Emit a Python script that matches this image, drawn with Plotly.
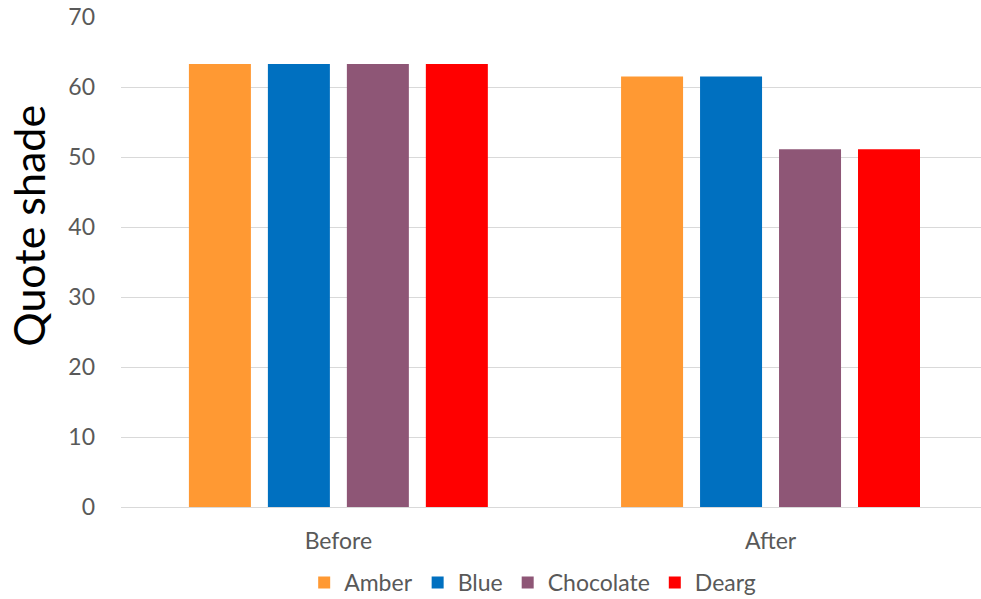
import plotly.graph_objects as go

categories = ["Before", "After"]
series_names = ["Amber", "Blue", "Chocolate", "Dearg"]
amber = [63.3, 61.5]
blue = [63.3, 61.5]
chocolate = [63.3, 51.1]
dearg = [63.3, 51.1]
colors = ["#FF9933", "#0070C0", "#8E5676", "#FF0000"]
y_ticks = [0, 10, 20, 30, 40, 50, 60, 70]
y_title = "Quote shade"

fig = go.Figure()
for name, vals, c in zip(series_names, [amber, blue, chocolate, dearg], colors):
    fig.add_trace(go.Bar(name=name, x=categories, y=vals, marker=dict(color=c, line=dict(width=0))))

fig.update_layout(
    width=981, height=599,
    margin=dict(l=121, r=0, t=17, b=92, autoexpand=False),
    paper_bgcolor="white", plot_bgcolor="white",
    barmode="group", bargap=0.269, bargroupgap=0.215,
    font=dict(family="Lato", size=23, color="#595959"),
    xaxis=dict(range=[-0.503, 1.487], showgrid=False, zeroline=False, showline=False,
               ticks="", ticklabelstandoff=18, tickfont=dict(size=23, color="#595959")),
    yaxis=dict(range=[0, 70], tickvals=y_ticks, showgrid=True, gridcolor="#D9D9D9", gridwidth=1.3,
               zeroline=True, zerolinecolor="#D9D9D9", zerolinewidth=1.3, showline=False,
               ticks="", ticklabelstandoff=25, tickfont=dict(size=23, color="#595959")),
    legend=dict(orientation="h", x=0.213, xanchor="left", y=-0.154, yanchor="middle",
                font=dict(size=23, color="#595959"), itemwidth=30, traceorder="normal"),
    annotations=[dict(text=y_title, xref="paper", yref="paper", x=-0.1076, y=0.575,
                      xanchor="center", yanchor="middle", textangle=-90, showarrow=False,
                      font=dict(size=43, color="black", family="Lato"))],
)
fig.write_html("out.html")
